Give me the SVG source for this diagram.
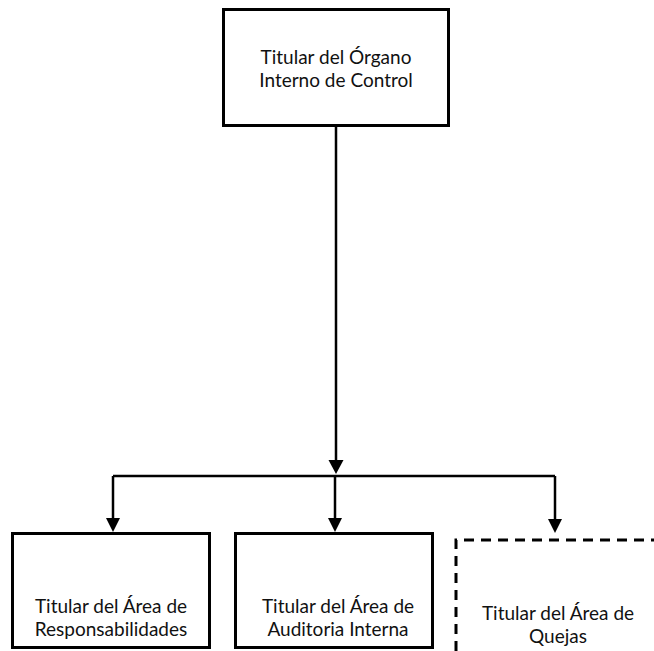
<svg xmlns="http://www.w3.org/2000/svg" width="654" height="651" viewBox="0 0 654 651">
<style>
.box{fill:#fff;stroke:#000;stroke-width:3}
.dash{fill:none;stroke:#000;stroke-width:3;stroke-dasharray:10 7}
.ln{fill:none;stroke:#000;stroke-width:2.5}
.ah{fill:#000}
text{font-family:Lato,"Open Sans",sans-serif;font-size:19px;fill:#111;text-anchor:middle}
</style>
<rect width="654" height="651" fill="#fff"/>
<g id="connectors">
<path class="ln" d="M336 126 V462"/>
<polygon class="ah" points="328.5,460 343.5,460 336,474"/>
<path class="ln" d="M113 476 H555"/>
<path class="ln" d="M335 476 V520"/>
<path class="ln" d="M113 476 V520"/>
<path class="ln" d="M555 476 V520"/>
<polygon class="ah" points="106,518 120,518 113,532"/>
<polygon class="ah" points="328,518 342,518 335,532"/>
<polygon class="ah" points="548,519 562,519 555,533"/>
</g>
<g id="n1">
<rect class="box" x="223.5" y="9.5" width="225" height="116"/>
<text x="336" y="64">Titular del Órgano</text>
<text x="336" y="87">Interno de Control</text>
</g>
<g id="n2">
<rect class="box" x="12.5" y="533.5" width="197" height="114"/>
<text x="111" y="613">Titular del Área de</text>
<text x="111" y="636">Responsabilidades</text>
</g>
<g id="n3">
<rect class="box" x="235.5" y="533.5" width="197" height="114"/>
<text x="338" y="613">Titular del Área de</text>
<text x="338" y="636">Auditoria Interna</text>
</g>
<g id="n4">
<path class="dash" d="M456 651 V540 H654"/>
<text x="558" y="620">Titular del Área de</text>
<text x="558" y="643">Quejas</text>
</g>
</svg>
